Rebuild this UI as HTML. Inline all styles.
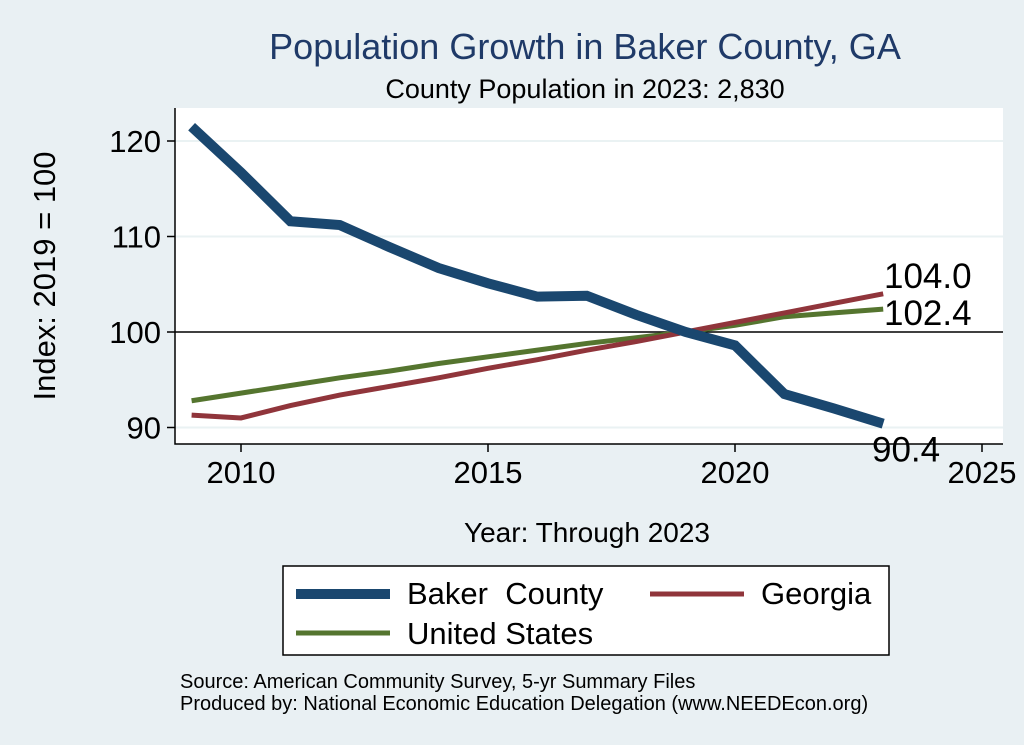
<!DOCTYPE html>
<html><head><meta charset="utf-8"><style>
body{margin:0;background:#e9f0f3;}
svg{display:block;font-family:"Liberation Sans",Arial,sans-serif;}
</style></head><body>
<svg width="1024" height="745">
<rect x="0" y="0" width="1024" height="745" fill="#e9f0f3"/>
<text x="585" y="59" font-size="36" fill="#1f3a68" text-anchor="middle">Population Growth in Baker County, GA</text>
<text x="585" y="98" font-size="27" fill="#000" text-anchor="middle">County Population in 2023: 2,830</text>
<rect x="175" y="108" width="828" height="336" fill="#fff"/>
<g id="grid"></g>
<g id="axes"></g>
<g id="series"></g>
<text transform="translate(55,276) rotate(-90)" font-size="31" text-anchor="middle">Index: 2019 = 100</text>
<text x="587" y="542" font-size="28" text-anchor="middle">Year: Through 2023</text>
<g>
<rect x="283" y="566" width="606" height="89" fill="#fff" stroke="#000" stroke-width="1.5"/>
<line x1="296" y1="594" x2="390" y2="594" stroke="#1a476f" stroke-width="10"/>
<text x="407" y="604" font-size="31">Baker&#160; County</text>
<line x1="650" y1="594" x2="744" y2="594" stroke="#90353b" stroke-width="5"/>
<text x="761" y="604" font-size="31">Georgia</text>
<line x1="296" y1="633" x2="390" y2="633" stroke="#55752f" stroke-width="5"/>
<text x="407" y="644" font-size="31">United States</text>
</g>
<text x="180" y="688" font-size="20">Source: American Community Survey, 5-yr Summary Files</text>
<text x="180" y="710" font-size="20">Produced by: National Economic Education Delegation (www.NEEDEcon.org)</text>
</svg>
<script>
const years=[2009,2010,2011,2012,2013,2014,2015,2016,2017,2018,2019,2020,2021,2022,2023];
const baker=[121.5,116.7,111.6,111.2,108.9,106.7,105.1,103.7,103.8,101.8,100,98.6,93.5,92.0,90.4];
const georgia=[91.3,91.0,92.3,93.4,94.3,95.2,96.2,97.1,98.1,99.0,100,101.0,102.0,103.0,104.0];
const us=[92.8,93.6,94.4,95.2,95.9,96.7,97.4,98.1,98.8,99.4,100,100.7,101.6,102.0,102.4];
const yTicks=[90,100,110,120];
const xTicks=[2010,2015,2020,2025];
const NS="http://www.w3.org/2000/svg";
const xs=v=>241+(v-2010)*49.4;
const ys=v=>332-(v-100)*9.55;
function mk(tag,attrs,parent,txt){const e=document.createElementNS(NS,tag);for(const k in attrs)e.setAttribute(k,attrs[k]);if(txt!==undefined)e.textContent=txt;document.getElementById(parent).appendChild(e);return e;}
yTicks.forEach(t=>{
 if(t!==100){const g=mk('line',{x1:175,x2:1003,y1:ys(t),y2:ys(t),stroke:'#eaf2f3','stroke-width':2},'grid');
 
 }
 const tk=mk('line',{x1:167,x2:175,y1:ys(t),y2:ys(t),stroke:'#000','stroke-width':1.5},'axes');
 
 
 const lb=mk('text',{x:161,y:ys(t)+11,'font-size':31,'text-anchor':'end'},'axes',t);
 
 
});
xTicks.forEach(t=>{
 const tk=mk('line',{x1:xs(t),x2:xs(t),y1:444,y2:452,stroke:'#000','stroke-width':1.5},'axes');
 
 
 const lb=mk('text',{x:xs(t),y:483,'font-size':31,'text-anchor':'middle'},'axes',t);
 
 
});
const ax=mk('path',{d:'M175,108 V444 H1003',fill:'none',stroke:'#000','stroke-width':1.5},'axes');


const ref=mk('line',{x1:175,x2:1003,y1:ys(100),y2:ys(100),stroke:'#000','stroke-width':1.5},'axes');


function series(vals,color,w,name){
 const d=vals.map((v,i)=>(i?'L':'M')+xs(years[i])+','+ys(v)).join(' ');
 const p=mk('path',{d:d,fill:'none',stroke:color,'stroke-width':w,'stroke-linejoin':'miter'},'series');
 
 
}
series(us,'#55752f',5,'line-united-states');
series(georgia,'#90353b',5,'line-georgia');
series(baker,'#1a476f',10,'line-baker-county');
const last=years.length-1;
const l1=mk('text',{x:884,y:ys(georgia[last])-6,'font-size':35},'series',georgia[last].toFixed(1));


const l2=mk('text',{x:884,y:ys(us[last])+16,'font-size':35},'series',us[last].toFixed(1));


const l3=mk('text',{x:872,y:ys(baker[last])+38,'font-size':35},'series',baker[last].toFixed(1));


</script>
</body></html>
